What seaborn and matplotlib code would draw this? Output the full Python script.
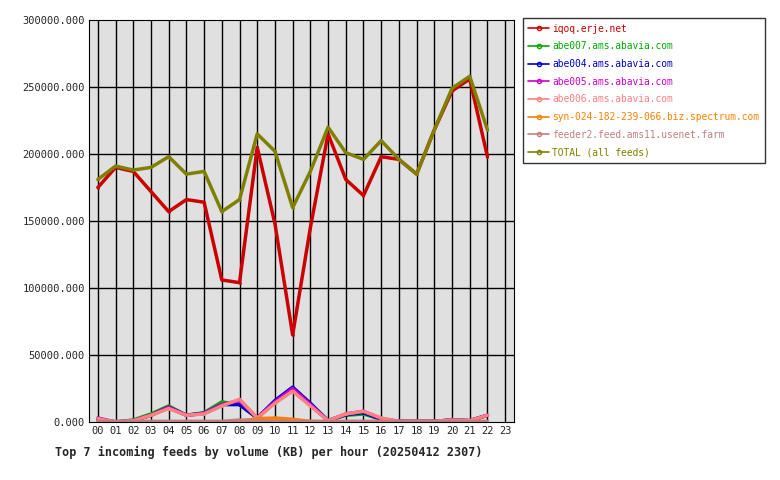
import matplotlib.pyplot as plt
import seaborn as sns
import pandas as pd
import numpy as np

hours = [f"{h:02d}" for h in range(24)]
hrs = list(range(23))

iqoq = [175000, 190000, 187000, 172000, 157000, 166000, 164000, 106000, 104000, 205000, 148000, 65000,
        145000, 215000, 181000, 169000, 198000, 196000, 185000, 218000, 247000, 256000, 198000]
abe007 = [2000, 0, 1500, 6000, 12000, 5000, 7000, 15000, 13000, 3000, 15000, 24000,
          13000, 1000, 5000, 6000, 2000, 500, 500, 500, 1500, 1000, 5000]
abe004 = [2000, 0, 1000, 5000, 11000, 5000, 6500, 13000, 13000, 3000, 16000, 26000,
          14000, 1000, 5500, 7000, 2000, 500, 500, 500, 1500, 1000, 5000]
abe005 = [3000, 0, 1000, 5000, 11000, 5000, 6500, 13000, 16000, 3000, 15000, 25000,
          13000, 1000, 6000, 8000, 2500, 500, 500, 500, 1500, 1000, 5000]
abe006 = [2500, 0, 1000, 5000, 10000, 5000, 6000, 12000, 17000, 3000, 14000, 23000,
          12000, 1000, 6000, 8000, 3000, 500, 500, 500, 1500, 1000, 5000]
spectrum = [0, 0, 0, 0, 0, 0, 0, 0, 500, 2500, 3000, 2000, 500, 0, 0, 0, 0, 0, 0, 0, 0, 0, 0]
feeder2 = [500, 500, 500, 500, 500, 500, 500, 500, 1500, 1000, 500, 500,
           500, 500, 500, 500, 500, 500, 500, 500, 500, 500, 500]
total = [181000, 191000, 188000, 190000, 198000, 185000, 187000, 157000, 166000, 215000, 202000, 160000,
         187000, 220000, 201000, 196000, 210000, 196000, 185000, 218000, 249000, 258000, 218000]

names = ["iqoq.erje.net", "abe007.ams.abavia.com", "abe004.ams.abavia.com", "abe005.ams.abavia.com",
         "abe006.ams.abavia.com", "syn-024-182-239-066.biz.spectrum.com",
         "feeder2.feed.ams11.usenet.farm", "TOTAL (all feeds)"]
colors = ["#cc0000", "#00aa00", "#0000cc", "#cc00cc", "#ff8080", "#ff8000", "#c08080", "#808000"]
series = [iqoq, abe007, abe004, abe005, abe006, spectrum, feeder2, total]

rows = []
for n, vals in zip(names, series):
    for h, v in zip(hrs, vals):
        rows.append({"hour": h, "kb": v, "feed": n})
df = pd.DataFrame(rows)

sns.set_style("white")
plt.rcParams['font.family'] = ['DejaVu Sans Mono']
fig = plt.figure(figsize=(7.8, 4.8), dpi=100)
ax = fig.add_axes([89/780, 58/480, 425/780, 402/480])
ax.set_facecolor("#e0e0e0")

sns.lineplot(data=df, x="hour", y="kb", hue="feed", hue_order=names, palette=colors,
             linewidth=2.5, marker="o", markersize=2, markeredgewidth=0, ax=ax, legend=False)

ax.set_xlim(-0.5, 23.5)
ax.set_ylim(0, 300000)
ax.set_xticks(range(24))
ax.set_xticklabels(hours, fontsize=7.5)
ax.set_yticks(range(0, 300001, 50000))
ax.set_yticklabels([f"{v}.000" for v in range(0, 300001, 50000)], fontsize=7.5)
ax.set_xlabel("")
ax.set_ylabel("")
for h in range(24):
    ax.axvline(h, color="black", lw=1, zorder=0)
for y in range(50000, 300000, 50000):
    ax.axhline(y, color="black", lw=1, zorder=0)
for s in ax.spines.values():
    s.set_color("black")
ax.tick_params(length=0, pad=3)

handles = [plt.Line2D([], [], color=c, lw=1.2, marker="o", markersize=3, markerfacecolor="none") for c in colors]
leg = ax.legend(handles, names, loc="upper left", bbox_to_anchor=(1.02, 1.005), frameon=True,
                fontsize=6.9, handlelength=2.2, handletextpad=0.3, borderaxespad=0, borderpad=0.6,
                fancybox=False, labelspacing=0.8)
leg.get_frame().set_edgecolor("black")
for t, c in zip(leg.get_texts(), colors):
    t.set_color(c)

fig.text(55/780, 1 - 452/480, "Top 7 incoming feeds by volume (KB) per hour (20250412 2307)",
         fontsize=8.5, fontweight="bold", va="center")

fig.savefig("out.png", dpi=100)
